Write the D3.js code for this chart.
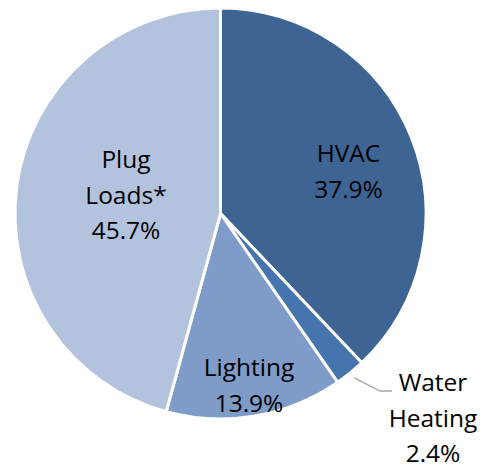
<!DOCTYPE html>
<html>
<head>
<meta charset="utf-8">
<script src="https://cdn.jsdelivr.net/npm/d3@7"></script>
<style>
  html, body { margin: 0; padding: 0; background: #fff; }
  svg text { font-family: "Open Sans", Lato, sans-serif; font-size: 24.5px; fill: #000; }
</style>
</head>
<body>
<div class="pie"></div>
<script>
// data
const categories = ['HVAC', 'Water Heating', 'Lighting', 'Plug Loads*']
const shares = [37.9, 2.4, 13.9, 45.7]
const labelLines = [['HVAC'], ['Water', 'Heating'], ['Lighting'], ['Plug', 'Loads*']]
const colors = ['#3e6494', '#4674ae', '#7f9bc7', '#b4c3dd']

// layout
const width = 489
const height = 466
const cx = 220.5
const cy = 213.5
const radius = 205.5
const lineGap = 35.5
// label block centre (x) and first baseline (y), relative to the pie centre
const labelAt = {
    'HVAC': [128, -51.5],
    'Water Heating': [212.5, 177.5],
    'Lighting': [28.5, 162.5],
    'Plug Loads*': [-94.5, -45.5]
}

const rows = categories.map((c, i) => ({ name: c, value: shares[i], lines: labelLines[i], color: colors[i] }))

const svg = d3.select('.pie')
    .append('svg')
    .attr('width', width)
    .attr('height', height)

const g = svg.append('g')
    .attr('transform', `translate(${cx},${cy})`)

const pie = d3.pie()
    .sort(null)
    .value(d => d.value)

const arc = d3.arc()
    .innerRadius(0)
    .outerRadius(radius)

const arcs = pie(rows)

g.selectAll('path')
    .data(arcs)
    .enter()
    .append('path')
    .attr('d', arc)
    .style('fill', d => d.data.color)
    .style('stroke', '#fff')
    .style('stroke-width', 3)
    .style('stroke-linejoin', 'round')

// leader line for the small slice
const small = arcs[1]
const mid = (small.startAngle + small.endAngle) / 2
const r0 = radius + 6
const p0 = [Math.sin(mid) * r0, -Math.cos(mid) * r0]
const lab = labelAt['Water Heating']
const p2 = [lab[0] - 41, lab[1]]
const p1 = [p2[0] - 12, p2[1]]
g.append('polyline')
    .attr('points', [p0, p1, p2].map(p => p.join(',')).join(' '))
    .style('fill', 'none')
    .style('stroke', '#a6a6a6')
    .style('stroke-width', 1.3)

// labels
const labels = g.selectAll('text.label')
    .data(arcs)
    .enter()
    .append('text')
    .attr('class', 'label')
    .attr('text-anchor', 'middle')

labels.each(function (d) {
    const [x, y] = labelAt[d.data.name]
    const lines = [...d.data.lines, d3.format('.1f')(d.data.value) + '%']
    d3.select(this)
        .selectAll('tspan')
        .data(lines)
        .enter()
        .append('tspan')
        .attr('x', x)
        .attr('y', (t, i) => y + i * lineGap)
        .text(t => t)
})
</script>
</body>
</html>
